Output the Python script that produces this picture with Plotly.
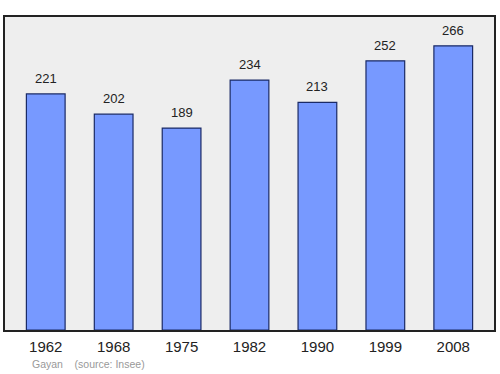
import plotly.graph_objects as go

years = ["1962", "1968", "1975", "1982", "1990", "1999", "2008"]
population = [221, 202, 189, 234, 213, 252, 266]

xpos = list(range(len(years)))

fig = go.Figure()
fig.add_trace(go.Bar(
    x=xpos, y=population, width=0.57,
    marker=dict(color="#7799ff", line=dict(color="#1a2a66", width=1.2)),
    hoverinfo="skip",
))
for i, v in zip(xpos, population):
    fig.add_annotation(x=i, y=v, text=str(v), showarrow=False, yanchor="bottom",
                       yshift=6, font=dict(family="Liberation Sans, Arial", size=13, color="#222"))

fig.add_annotation(xref="paper", yref="paper", x=0.051, y=-0.082, xanchor="left", yanchor="top",
                   text="Gayan&nbsp;&nbsp;&nbsp;&nbsp;(source: Insee)", showarrow=False,
                   font=dict(family="Liberation Sans, Arial", size=10.5, color="#999"))

fig.update_layout(
    width=500, height=374,
    margin=dict(l=5, r=4, t=17, b=44),
    paper_bgcolor="white", plot_bgcolor="#eeeeee",
    showlegend=False,
    xaxis=dict(range=[-0.6, 6.6], tickmode="array", tickvals=xpos, ticktext=years,
               showgrid=False, zeroline=False, showline=True, linecolor="#222", linewidth=1.5,
               mirror=True, ticks="", ticklabelstandoff=2,
               tickfont=dict(family="Liberation Sans, Arial", size=15, color="#222")),
    yaxis=dict(range=[0, 293], showgrid=False, zeroline=False, showticklabels=False,
               showline=True, linecolor="#222", linewidth=1.5, mirror=True, ticks=""),
)
fig.write_html("out.html")
